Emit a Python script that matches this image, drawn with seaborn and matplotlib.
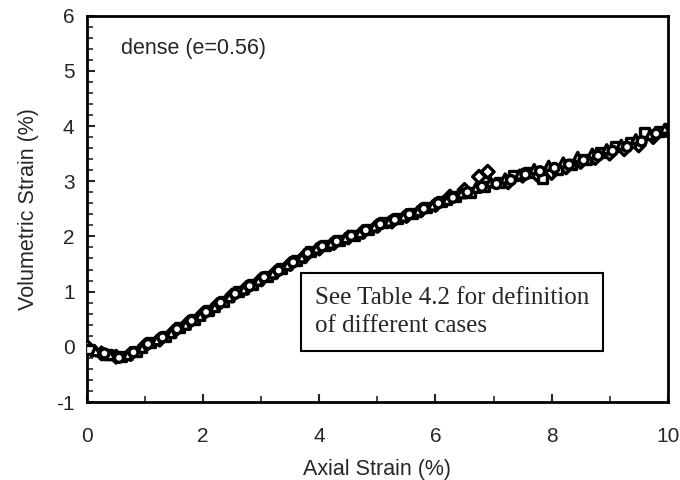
import pandas as pd
import numpy as np
import matplotlib.pyplot as plt
import seaborn as sns
from matplotlib.ticker import MultipleLocator

sns.set_style('ticks')
plt.rcParams['font.family'] = ['Liberation Sans', 'DejaVu Sans']
plt.rcParams['axes.unicode_minus'] = False

# case 1 - diamonds
x_diamond = [0.0, 0.25, 0.5, 0.75, 1.0, 1.25, 1.5, 1.75, 2.0, 2.25, 2.5, 2.75, 3.0, 3.25, 3.5, 3.75,
             4.0, 4.25, 4.5, 4.75, 5.0, 5.25, 5.5, 5.75, 6.0, 6.25, 6.5, 6.75, 6.9, 7.25, 7.5, 7.75,
             8.0, 8.25, 8.5, 8.75, 9.0, 9.25, 9.5, 9.75, 10.0]
y_diamond = [0.00, -0.12, -0.18, -0.13, 0.02, 0.13, 0.28, 0.44, 0.60, 0.76, 0.93, 1.07, 1.22, 1.35, 1.50, 1.64,
             1.78, 1.88, 1.98, 2.08, 2.19, 2.27, 2.37, 2.47, 2.57, 2.72, 2.84, 3.08, 3.17, 2.98, 3.10, 3.12,
             3.15, 3.25, 3.35, 3.42, 3.50, 3.58, 3.65, 3.80, 3.92]

# case 2 - squares
x_square = [0.05, 0.35, 0.6, 0.85, 1.1, 1.35, 1.6, 1.85, 2.1, 2.35, 2.6, 2.85, 3.1, 3.35, 3.6, 3.85,
            4.1, 4.35, 4.6, 4.85, 5.1, 5.35, 5.6, 5.85, 6.1, 6.35, 6.6, 6.85, 7.1, 7.35, 7.6, 7.85,
            8.1, 8.35, 8.6, 8.85, 9.1, 9.35, 9.6, 9.85]
y_square = [-0.05, -0.14, -0.18, -0.08, 0.08, 0.18, 0.35, 0.50, 0.66, 0.82, 1.00, 1.13, 1.28, 1.41, 1.56, 1.72,
            1.83, 1.93, 2.02, 2.12, 2.25, 2.33, 2.42, 2.53, 2.63, 2.73, 2.80, 2.90, 2.98, 3.10, 3.15, 3.05,
            3.22, 3.30, 3.40, 3.52, 3.62, 3.70, 3.88, 3.90]

# case 3 - triangles
x_triangle = [0.15, 0.4, 0.7, 0.95, 1.2, 1.45, 1.7, 1.95, 2.2, 2.45, 2.7, 2.95, 3.2, 3.45, 3.7, 3.95,
              4.2, 4.45, 4.7, 4.95, 5.2, 5.45, 5.7, 5.95, 6.2, 6.45, 6.7, 6.95, 7.2, 7.45, 7.7, 7.95,
              8.2, 8.45, 8.7, 8.95, 9.2, 9.45, 9.7, 9.95]
y_triangle = [-0.08, -0.15, -0.15, -0.02, 0.12, 0.25, 0.40, 0.56, 0.72, 0.90, 1.04, 1.20, 1.33, 1.48, 1.62, 1.78,
              1.87, 1.97, 2.06, 2.18, 2.27, 2.36, 2.46, 2.56, 2.66, 2.78, 2.88, 2.98, 3.05, 3.12, 3.22, 3.28,
              3.34, 3.44, 3.50, 3.58, 3.66, 3.76, 3.84, 3.95]

# case 4 - circles
x_circle = [0.3, 0.55, 0.8, 1.05, 1.3, 1.55, 1.8, 2.05, 2.3, 2.55, 2.8, 3.05, 3.3, 3.55, 3.8, 4.05,
            4.3, 4.55, 4.8, 5.05, 5.3, 5.55, 5.8, 6.05, 6.3, 6.55, 6.8, 7.05, 7.3, 7.55, 7.8, 8.05,
            8.3, 8.55, 8.8, 9.05, 9.3, 9.55, 9.8]
y_circle = [-0.12, -0.20, -0.10, 0.05, 0.17, 0.32, 0.47, 0.63, 0.80, 0.96, 1.10, 1.26, 1.38, 1.53, 1.70, 1.82,
            1.91, 2.01, 2.11, 2.22, 2.30, 2.40, 2.50, 2.60, 2.70, 2.80, 2.90, 2.95, 3.02, 3.12, 3.18, 3.24,
            3.30, 3.38, 3.46, 3.55, 3.62, 3.72, 3.86]

frames = []
for name, xs, ys in [('diamond', x_diamond, y_diamond), ('square', x_square, y_square),
                     ('triangle', x_triangle, y_triangle), ('circle', x_circle, y_circle)]:
    frames.append(pd.DataFrame({'axial': xs, 'vol': ys, 'case': name}))
df = pd.concat(frames, ignore_index=True)

fig = plt.figure(figsize=(6.8, 4.8), dpi=100)
ax = fig.add_axes([0.128, 0.1625, 0.854, 0.805])

sns.scatterplot(data=df, x='axial', y='vol', style='case',
                markers={'diamond': 'D', 'square': 's', 'triangle': '^', 'circle': 'o'},
                color='black', facecolor='white', edgecolor='black', linewidth=2.4,
                s=42, legend=False, ax=ax, zorder=3)

ax.set_xlim(0, 10)
ax.set_ylim(-1, 6)
ax.xaxis.set_major_locator(MultipleLocator(2))
ax.xaxis.set_minor_locator(MultipleLocator(1))
ax.yaxis.set_major_locator(MultipleLocator(1))
ax.yaxis.set_minor_locator(MultipleLocator(0.2))
ax.tick_params(which='major', direction='in', length=6, width=1.5, labelsize=15)
ax.tick_params(axis='x', which='major', pad=18)
ax.tick_params(axis='y', which='major', pad=9)
ax.tick_params(which='minor', direction='in', length=4, width=1.2)
for sp in ax.spines.values():
    sp.set_linewidth(2)
    sp.set_color('black')

ax.set_xlabel('Axial Strain (%)', fontsize=15.5, labelpad=9)
ax.set_ylabel('Volumetric Strain (%)', fontsize=15.5, labelpad=12)

ax.text(0.58, 5.4, 'dense (e=0.56)', fontsize=15.5, va='center', ha='left')

ax.text(3.92, 0.63, 'See Table 4.2 for definition\nof different cases',
        family=['Liberation Serif', 'DejaVu Serif'], fontsize=18, va='center', ha='left',
        linespacing=1.4,
        bbox=dict(boxstyle='square,pad=0.55', facecolor='white', edgecolor='black', linewidth=1.5),
        zorder=5)

fig.savefig('out.png', dpi=100)
